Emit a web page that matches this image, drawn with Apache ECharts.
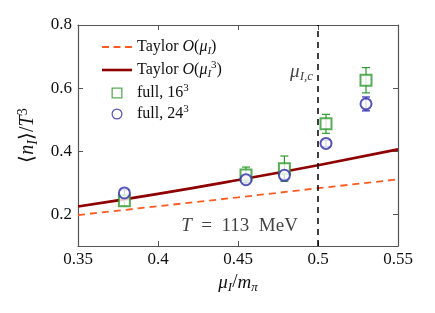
<!DOCTYPE html>
<html><head><meta charset="utf-8">
<script src="https://cdn.jsdelivr.net/npm/echarts@6/dist/echarts.min.js"></script>
<style>html,body{margin:0;padding:0;background:#fff}#c{width:435px;height:313px}</style>
</head><body><div id="c"></div>
<script>
// ---- data ----
const muGrid = [0.35, 0.40, 0.45, 0.50, 0.55];
const taylor1 = [0.198, 0.226, 0.254, 0.283, 0.311];
const taylor3 = [0.225, 0.265, 0.309, 0.356, 0.406];
const muPoints = [0.379, 0.455, 0.479, 0.505, 0.530];
const full16 = [0.243, 0.325, 0.345, 0.487, 0.625];
const full16Err = [0.015, 0.025, 0.040, 0.030, 0.040];
const full24 = [0.268, 0.310, 0.324, 0.425, 0.550];
const full24Err = [0.010, 0.010, 0.012, 0.010, 0.022];
const muCrit = 0.5;
const xTicks = [0.35, 0.4, 0.45, 0.5, 0.55];
const yTicks = [0.2, 0.4, 0.6, 0.8];

const FF = 'Liberation Serif';
const C1 = '#ff5a1f', C3 = '#8f0000', CG = '#2e9a2e', CB = '#2a2aaa';
function mkRich(fs) {
  const s = Math.round(fs * 0.68);
  return {
    n: {fontFamily: FF, fontSize: fs, color: '#111', lineHeight: fs + 4},
    it: {fontFamily: FF, fontSize: fs, fontStyle: 'italic', color: '#111', lineHeight: fs + 4},
    sub: {fontFamily: FF, fontSize: s, fontStyle: 'italic', color: '#111', lineHeight: s + 1, verticalAlign: 'bottom'},
    sup: {fontFamily: FF, fontSize: s, color: '#111', lineHeight: s + 1, verticalAlign: 'top'}
  };
}
const rich = mkRich(16);
const names = ['Taylor O(μI)', 'Taylor O(μI3)', 'full, 163', 'full, 243'];
const legendText = {
  'Taylor O(μI)': '{n|Taylor }{it|O}{n|(}{it|μ}{sub|I}{n|)}',
  'Taylor O(μI3)': '{n|Taylor }{it|O}{n|(}{it|μ}{sub|I}{sup|3}{n|)}',
  'full, 163': '{n|full, 16}{sup|3}',
  'full, 243': '{n|full, 24}{sup|3}'
};
const icDash = 'path://M0,0h7v1.8h-7z M11.5,0h7v1.8h-7z M23,0h7v1.8h-7z';
const icSolid = 'path://M0,0h30v2.6h-30z';
const icSquare = 'path://M0,0H10V10H0Z M1.2,1.2V8.8H8.8V1.2Z';
const icCircle = 'path://M5,0A5,5 0 1,1 5,10A5,5 0 1,1 5,0Z M5,1.1A3.9,3.9 0 1,0 5,8.9A3.9,3.9 0 1,0 5,1.1Z';

function pairs(xs, ys) { return xs.map((x, i) => [x, ys[i]]); }
function errs(xs, ys, es) { return xs.map((x, i) => [x, ys[i] - es[i], ys[i] + es[i]]); }
function errRender(color) {
  return function (params, api) {
    const x = api.value(0);
    const a = api.coord([x, api.value(1)]);
    const b = api.coord([x, api.value(2)]);
    const w = 4;
    const st = {stroke: color, lineWidth: 1.2};
    return {type: 'group', children: [
      {type: 'line', shape: {x1: a[0], y1: a[1], x2: b[0], y2: b[1]}, style: st},
      {type: 'line', shape: {x1: a[0] - w, y1: a[1], x2: a[0] + w, y2: a[1]}, style: st},
      {type: 'line', shape: {x1: b[0] - w, y1: b[1], x2: b[0] + w, y2: b[1]}, style: st}
    ]};
  };
}

const axisLine = {show: true, lineStyle: {color: '#555', width: 1.2}};
const chart = echarts.init(document.getElementById('c'), null, {renderer: 'canvas'});
chart.setOption({
  animation: false,
  backgroundColor: '#fff',
  grid: {left: 78, right: 37, top: 25, bottom: 67, containLabel: false},
  legend: {
    data: [
      {name: names[0], icon: icDash},
      {name: names[1], icon: icSolid},
      {name: names[2], icon: icSquare, itemStyle: {borderWidth: 0}},
      {name: names[3], icon: icCircle, itemStyle: {borderWidth: 0}}
    ],
    left: 97, top: 34, orient: 'vertical', itemGap: 3,
    itemWidth: 30, itemHeight: 11, symbolKeepAspect: true,
    formatter: n => legendText[n],
    textStyle: {rich: rich, fontFamily: FF, fontSize: 16}
  },
  xAxis: [{
    type: 'value', min: 0.35, max: 0.55, interval: 0.05,
    axisLine: axisLine, splitLine: {show: false},
    axisTick: {inside: true, length: 5, lineStyle: {color: '#555'}, customValues: xTicks},
    axisLabel: {fontFamily: FF, fontSize: 17, color: '#111', margin: 5, customValues: xTicks,
      formatter: v => String(+v.toFixed(2))},
    name: '{it|μ}{sub|I}{n|/}{it|m}{sub|π}', nameLocation: 'middle', nameGap: 25,
    nameTextStyle: {rich: mkRich(19)}
  }, {
    type: 'value', position: 'top', min: 0.35, max: 0.55, interval: 0.05,
    axisLine: axisLine, splitLine: {show: false},
    axisTick: {inside: true, length: 5, lineStyle: {color: '#555'}, customValues: xTicks},
    axisLabel: {show: false}
  }],
  yAxis: [{
    type: 'value', min: 0.1, max: 0.8, interval: 0.1,
    axisLine: axisLine, splitLine: {show: false},
    axisTick: {inside: true, length: 5, lineStyle: {color: '#555'}, customValues: yTicks},
    axisLabel: {fontFamily: FF, fontSize: 17, color: '#111', margin: 6, customValues: yTicks,
      formatter: v => String(+v.toFixed(1))},
    name: '{n|⟨}{it|n}{sub|I}{n|⟩/}{it|T}{sup|3}', nameLocation: 'middle', nameGap: 37, nameRotate: 90,
    nameTextStyle: {rich: mkRich(20)}
  }, {
    type: 'value', position: 'right', min: 0.1, max: 0.8, interval: 0.1,
    axisLine: axisLine, splitLine: {show: false},
    axisTick: {inside: true, length: 5, lineStyle: {color: '#555'}, customValues: yTicks},
    axisLabel: {show: false}
  }],
  series: [
    {name: names[0], type: 'line', data: pairs(muGrid, taylor1), showSymbol: false, symbol: 'none',
      color: C1, lineStyle: {color: C1, width: 1.8, type: [7, 5]}, z: 3},
    {name: names[1], type: 'line', data: pairs(muGrid, taylor3), showSymbol: false, symbol: 'none', smooth: true,
      color: C3, lineStyle: {color: C3, width: 2.6}, z: 4,
      markLine: {silent: true, symbol: 'none', label: {show: false},
        lineStyle: {color: '#000', type: [6, 5], width: 1.5},
        data: [{xAxis: muCrit}]}},
    {name: 'err16', type: 'custom', data: errs(muPoints, full16, full16Err), renderItem: errRender(CG),
      encode: {x: 0, y: [1, 2]}, z: 5},
    {name: names[2], type: 'scatter', data: pairs(muPoints, full16), symbol: 'emptyRect', symbolSize: 11,
      color: CG, itemStyle: {color: CG, borderColor: CG, borderWidth: 1.2}, z: 6},
    {name: 'err24', type: 'custom', data: errs(muPoints, full24, full24Err), renderItem: errRender(CB),
      encode: {x: 0, y: [1, 2]}, z: 5},
    {name: names[3], type: 'scatter', data: pairs(muPoints, full24), symbol: 'emptyCircle', symbolSize: 11,
      color: CB, itemStyle: {color: CB, borderColor: CB, borderWidth: 1.2}, z: 6},
    {name: 'labels', type: 'scatter', symbolSize: 0, silent: true, z: 7,
      data: [
        {value: [muCrit, 0.652], label: {show: true, position: 'left', distance: 5,
          formatter: '{it|μ}{sub|I,c}', rich: mkRich(19)}},
        {value: [0.451, 0.163], label: {show: true, position: 'inside',
          formatter: '{it|T}{n|  =  113  MeV}', rich: mkRich(19)}}
      ]}
  ]
});
</script></body></html>
